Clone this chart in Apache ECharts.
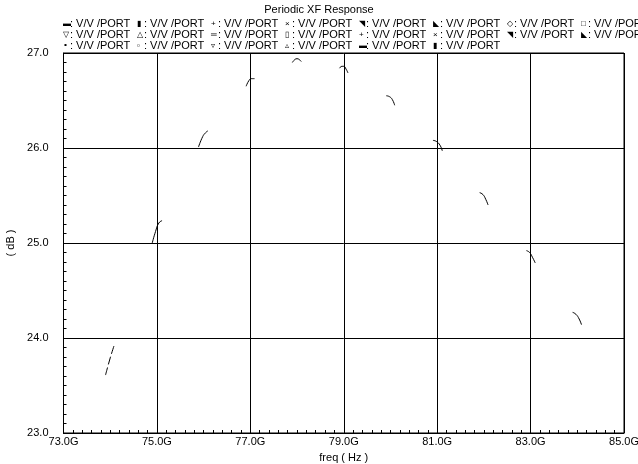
<!DOCTYPE html>
<html><head><meta charset="utf-8">
<script src="https://cdn.jsdelivr.net/npm/echarts@6/dist/echarts.min.js"></script>
<style>html,body{margin:0;padding:0;background:#fff}#c{width:638px;height:464px}</style>
</head><body><div id="c"></div>
<script>
// Data
const titleText = 'Periodic XF Response';
const xName = 'freq ( Hz )';
const yName = '( dB )';
const xMin = 73, xMax = 85, xStep = 2;
const yMin = 23, yMax = 27, yStep = 1;

const seg1 = [[73.90,23.61],[74.00,23.79],[74.09,23.93]];
const seg2 = [[74.90,25.00],[74.97,25.12],[75.04,25.21],[75.11,25.235]];
const seg3 = [[75.89,26.01],[75.98,26.12],[76.04,26.16],[76.09,26.18]];
const seg4 = [[76.91,26.65],[76.97,26.71],[77.02,26.73],[77.09,26.73]];
const seg5 = [[77.90,26.90],[77.95,26.93],[78.00,26.94],[78.05,26.93],[78.09,26.91]];
const seg6 = [[78.91,26.84],[78.96,26.86],[79.00,26.86],[79.05,26.83],[79.09,26.79]];
const seg7 = [[79.91,26.55],[79.98,26.54],[80.04,26.51],[80.09,26.45]];
const seg8 = [[80.91,26.08],[80.98,26.07],[81.06,26.03],[81.11,25.97]];
const seg9 = [[81.91,25.53],[81.98,25.51],[82.04,25.46],[82.09,25.40]];
const seg10 = [[82.91,24.92],[82.98,24.90],[83.04,24.85],[83.10,24.79]];
const seg11 = [[83.90,24.27],[83.97,24.25],[84.04,24.20],[84.09,24.14]];
const segments = [seg1,seg2,seg3,seg4,seg5,seg6,seg7,seg8,seg9,seg10,seg11];

const legendRow1 = ['▬','▮','+','×','◥','◣','◇','□'];
const legendRow2 = ['▽','△','═','▯','+','×','◥','◣'];
const legendRow3 = ['∘','▫','▿','▵','▬','▮'];
const legendLabel = ': V/V /PORT';

const FONT = '"Liberation Sans", Arial, sans-serif';

const series = segments.map((s, i) => ({
  type: 'line', data: s, symbol: 'none', smooth: true, silent: true,
  lineStyle: { color: '#000', width: 1, type: i === 0 ? [8, 3] : 'solid' }
}));

const graphics = [];
const rows = [legendRow1, legendRow2, legendRow3];
rows.forEach((row, r) => {
  row.forEach((sym, i) => {
    const x0 = 63 + i * 74;
    const y0 = 25 + r * 11;
    graphics.push({ type: 'text', left: x0, top: y0 - 5, silent: true,
      style: { text: sym, font: '8px ' + FONT, fill: '#000' } });
    graphics.push({ type: 'text', left: x0 + 7, top: y0 - 7, silent: true,
      style: { text: legendLabel, font: '11px ' + FONT, fill: '#000' } });
  });
});

const chart = echarts.init(document.getElementById('c'), null, { renderer: 'canvas' });
chart.setOption({
  backgroundColor: '#fff',
  animation: false,
  title: { text: titleText, left: 'center', top: 4, padding: 0,
    textStyle: { fontFamily: FONT, fontSize: 11, fontWeight: 'normal', color: '#000' } },
  grid: { left: 63.5, right: 14, top: 53, bottom: 31, show: true, borderColor: '#000', borderWidth: 1,
    outerBoundsMode: 'none', containLabel: false },
  xAxis: {
    type: 'value', min: xMin, max: xMax, interval: xStep,
    name: xName, nameLocation: 'middle', nameGap: 19,
    nameTextStyle: { fontFamily: FONT, fontSize: 11, color: '#000' },
    axisLine: { show: true, lineStyle: { color: '#000' } },
    axisTick: { show: false, inside: true },
    minorTick: { show: true, splitNumber: 10, length: 3, lineStyle: { color: '#000' } },
    axisLabel: { formatter: v => v.toFixed(1) + 'G', margin: 3,
      fontFamily: FONT, fontSize: 11, color: '#000' },
    splitLine: { show: true, lineStyle: { color: '#000', width: 1 } }
  },
  yAxis: {
    type: 'value', min: yMin, max: yMax, interval: yStep,
    name: yName, nameLocation: 'middle', nameGap: 47, nameRotate: 90,
    nameTextStyle: { fontFamily: FONT, fontSize: 11, color: '#000' },
    axisLine: { show: true, lineStyle: { color: '#000' } },
    axisTick: { show: false, inside: true },
    minorTick: { show: true, splitNumber: 10, length: 3, lineStyle: { color: '#000' } },
    axisLabel: { formatter: v => v.toFixed(1), margin: 15,
      fontFamily: FONT, fontSize: 11, color: '#000' },
    splitLine: { show: true, lineStyle: { color: '#000', width: 1 } }
  },
  graphic: graphics,
  series: series
});
</script></body></html>
